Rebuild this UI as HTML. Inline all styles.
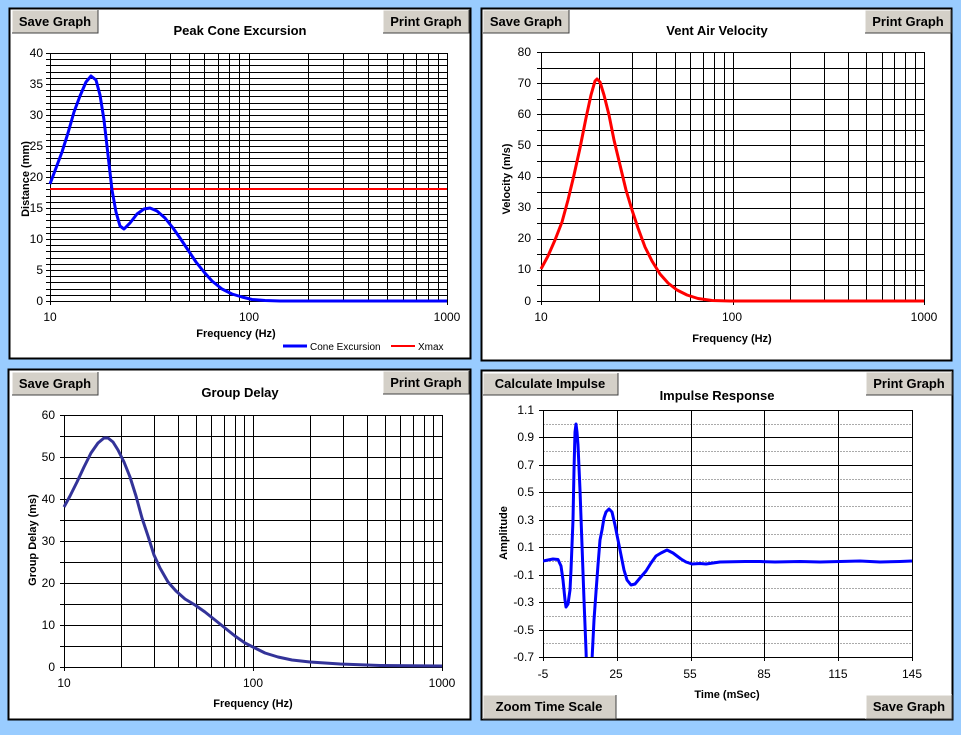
<!DOCTYPE html>
<html><head><meta charset="utf-8"><style>
html,body{margin:0;padding:0;background:#99ccff;}
svg{display:block;font-family:"Liberation Sans",Arial,sans-serif;}
.t{font-size:13px;font-weight:bold;}
.k{font-size:12px;}
.a{font-size:11px;font-weight:bold;}
.b{font-size:13px;font-weight:bold;}
</style></head><body>
<svg id="s" width="961" height="735" viewBox="0 0 961 735" xmlns="http://www.w3.org/2000/svg">
<defs>
<clipPath id="c4"><rect x="543" y="410" width="369" height="247"/></clipPath>
</defs>
<rect width="961" height="735" fill="#99ccff"/>
<rect x="9.5" y="8.5" width="461" height="350" fill="#fff" stroke="#000" stroke-width="2"/>
<rect x="481.5" y="8.5" width="470" height="352" fill="#fff" stroke="#000" stroke-width="2"/>
<rect x="8.5" y="369.5" width="462" height="350" fill="#fff" stroke="#000" stroke-width="2"/>
<rect x="481.5" y="370.5" width="471" height="349" fill="#fff" stroke="#000" stroke-width="2"/>
<g id="grid"></g>

<!-- P1 -->
<polyline fill="none" stroke="#ff0000" stroke-width="2" points="50,189 447,189"/>
<polyline fill="none" stroke="#0000ff" stroke-width="3" stroke-linejoin="round" points="50,184 56,168 62,152 68,133 74,112 80,96 86,82 91,76 96,80 100,95 104,120 108,155 112,190 116,212 120,226 124,229 130,223 137,214 144,209 150,208 157,211 165,218 173,228 180,238 188,250 196,262 204,272 212,281 222,289 232,294 242,297 252,299.5 265,300.5 280,301 447,301"/>
<line x1="283" y1="346" x2="307" y2="346" stroke="#0000ff" stroke-width="3"/>
<text x="310" y="350" font-size="10">Cone Excursion</text>
<line x1="391" y1="346" x2="415" y2="346" stroke="#ff0000" stroke-width="2"/>
<text x="418" y="350" font-size="10">Xmax</text>
<text class="t" x="240" y="35" text-anchor="middle">Peak Cone Excursion</text>
<g class="k" text-anchor="end">
<text x="43" y="57">40</text><text x="43" y="88">35</text><text x="43" y="119">30</text><text x="43" y="150">25</text><text x="43" y="181">20</text><text x="43" y="212">15</text><text x="43" y="243">10</text><text x="43" y="274">5</text><text x="43" y="305">0</text>
</g>
<g class="k" text-anchor="middle"><text x="50" y="321">10</text><text x="249" y="321">100</text><text x="447" y="321">1000</text></g>
<text class="a" x="236" y="337" text-anchor="middle">Frequency (Hz)</text>
<text class="a" transform="translate(29,179) rotate(-90)" text-anchor="middle">Distance (mm)</text>

<!-- P2 -->
<polyline fill="none" stroke="#ff0000" stroke-width="3" stroke-linejoin="round" points="541,269 548,256 555,240 562,222 568,200 574,175 580,148 586,118 591,95 595,81 597,79 600,82 604,95 609,115 614,140 620,165 626,190 632,210 638,228 645,247 652,261 660,274 668,283 677,290 687,295 698,298.5 712,300.5 730,301 924,301"/>
<text class="t" x="717" y="35" text-anchor="middle">Vent Air Velocity</text>
<g class="k" text-anchor="end">
<text x="531" y="56">80</text><text x="531" y="87">70</text><text x="531" y="118">60</text><text x="531" y="149">50</text><text x="531" y="180">40</text><text x="531" y="211">30</text><text x="531" y="242">20</text><text x="531" y="273">10</text><text x="531" y="305">0</text>
</g>
<g class="k" text-anchor="middle"><text x="541" y="321">10</text><text x="732" y="321">100</text><text x="924" y="321">1000</text></g>
<text class="a" x="732" y="342" text-anchor="middle">Frequency (Hz)</text>
<text class="a" transform="translate(510,179) rotate(-90)" text-anchor="middle">Velocity (m/s)</text>

<!-- P3 -->
<polyline fill="none" stroke="#333399" stroke-width="3" stroke-linejoin="round" points="64,507 70,496 77,482 84,467 91,453 98,443 104,438 108,438 113,442 118,450 124,462 130,477 136,496 142,518 148,536 154,555 160,568 168,582 176,591 185,599 195,605 205,612 215,620 225,628 235,636 245,643 255,648 265,653 278,657 292,660 310,662 340,664 380,665.5 442,666"/>
<text class="t" x="240" y="397" text-anchor="middle">Group Delay</text>
<g class="k" text-anchor="end">
<text x="55" y="419">60</text><text x="55" y="461">50</text><text x="55" y="503">40</text><text x="55" y="545">30</text><text x="55" y="587">20</text><text x="55" y="629">10</text><text x="55" y="671">0</text>
</g>
<g class="k" text-anchor="middle"><text x="64" y="687">10</text><text x="253" y="687">100</text><text x="442" y="687">1000</text></g>
<text class="a" x="253" y="707" text-anchor="middle">Frequency (Hz)</text>
<text class="a" transform="translate(36,540) rotate(-90)" text-anchor="middle">Group Delay (ms)</text>

<!-- P4 -->
<g clip-path="url(#c4)">
<polyline fill="none" stroke="#0000ff" stroke-width="3" stroke-linejoin="round" points="543,561 548,560 553,559 558,559.5 561,566 563,580 565,600 566,607 568,604 570,590 571,570 573,520 574,470 575,432 576,424 577,432 578,445 580,490 582,545 584,600 586,650 587,680 590,690 592,660 594,620 596,592 598,565 600,540 602,530 604,518 606,512 609,509 612,512 615,525 618,540 621,555 624,570 627,580 631,585 635,584 640,578 646,571 651,563 656,556 661,553 667,550 673,553 677,556 681,559 686,562 692,564 700,563.5 706,564 713,563 720,562 745,561.5 760,561.5 775,562 800,561.5 820,562 840,561.5 860,561 880,562 900,561.5 912,561"/>
</g>
<text class="t" x="717" y="400" text-anchor="middle">Impulse Response</text>
<g class="k" text-anchor="end">
<text x="534" y="414">1.1</text><text x="534" y="441">0.9</text><text x="534" y="469">0.7</text><text x="534" y="496">0.5</text><text x="534" y="524">0.3</text><text x="534" y="551">0.1</text><text x="534" y="579">-0.1</text><text x="534" y="606">-0.3</text><text x="534" y="634">-0.5</text><text x="534" y="661">-0.7</text>
</g>
<g class="k" text-anchor="middle"><text x="543" y="678">-5</text><text x="616" y="678">25</text><text x="690" y="678">55</text><text x="764" y="678">85</text><text x="838" y="678">115</text><text x="912" y="678">145</text></g>
<text class="a" x="727" y="698" text-anchor="middle">Time (mSec)</text>
<text class="a" transform="translate(507,533) rotate(-90)" text-anchor="middle">Amplitude</text>

<!-- buttons -->
<g class="b">
<rect x="12" y="10" width="86" height="23" fill="#d4d0c8"/><path d="M12,33 V10 H98" stroke="#fff" fill="none"/><path d="M98,10 V33 H12" stroke="#404040" fill="none"/><text x="55" y="26" text-anchor="middle">Save Graph</text>
<rect x="383" y="10" width="86" height="23" fill="#d4d0c8"/><path d="M383,33 V10 H469" stroke="#fff" fill="none"/><path d="M469,10 V33 H383" stroke="#404040" fill="none"/><text x="426" y="26" text-anchor="middle">Print Graph</text>
<rect x="483" y="10" width="86" height="23" fill="#d4d0c8"/><path d="M483,33 V10 H569" stroke="#fff" fill="none"/><path d="M569,10 V33 H483" stroke="#404040" fill="none"/><text x="526" y="26" text-anchor="middle">Save Graph</text>
<rect x="865" y="10" width="86" height="23" fill="#d4d0c8"/><path d="M865,33 V10 H951" stroke="#fff" fill="none"/><path d="M951,10 V33 H865" stroke="#404040" fill="none"/><text x="908" y="26" text-anchor="middle">Print Graph</text>
<rect x="12" y="372" width="86" height="23" fill="#d4d0c8"/><path d="M12,395 V372 H98" stroke="#fff" fill="none"/><path d="M98,372 V395 H12" stroke="#404040" fill="none"/><text x="55" y="388" text-anchor="middle">Save Graph</text>
<rect x="383" y="371" width="86" height="23" fill="#d4d0c8"/><path d="M383,394 V371 H469" stroke="#fff" fill="none"/><path d="M469,371 V394 H383" stroke="#404040" fill="none"/><text x="426" y="387" text-anchor="middle">Print Graph</text>
<rect x="483" y="373" width="135" height="22" fill="#d4d0c8"/><path d="M483,395 V373 H618" stroke="#fff" fill="none"/><path d="M618,373 V395 H483" stroke="#404040" fill="none"/><text x="550" y="388" text-anchor="middle">Calculate Impulse</text>
<rect x="866" y="372" width="86" height="23" fill="#d4d0c8"/><path d="M866,395 V372 H952" stroke="#fff" fill="none"/><path d="M952,372 V395 H866" stroke="#404040" fill="none"/><text x="909" y="388" text-anchor="middle">Print Graph</text>
<rect x="483" y="695" width="133" height="24" fill="#d4d0c8"/><path d="M483,719 V695 H616" stroke="#fff" fill="none"/><path d="M616,695 V719 H483" stroke="#404040" fill="none"/><text x="549" y="711" text-anchor="middle">Zoom Time Scale</text>
<rect x="866" y="695" width="86" height="24" fill="#d4d0c8"/><path d="M866,719 V695 H952" stroke="#fff" fill="none"/><path d="M952,695 V719 H866" stroke="#404040" fill="none"/><text x="909" y="711" text-anchor="middle">Save Graph</text>
</g>
</svg>
<script>
(function(){
var g=document.getElementById('grid'),h='';
function L(x1,y1,x2,y2,c,d){h+='<line x1="'+x1+'" y1="'+y1+'" x2="'+x2+'" y2="'+y2+'" stroke="'+(c||'#000')+'" stroke-width="1"'+(d?' stroke-dasharray="'+d+'"':'')+'/>';}
function logp(x0,x1,y0,y1,ymax,step){
 for(var v=0;v<=ymax+1e-9;v+=step){var y=Math.round(y1-(y1-y0)*v/ymax)+0.5;L(x0,y,x1,y);L(x0-4,y,x0,y);}
 for(var d=10;d<1000;d*=10)for(var m=1;m<=10;m++){var f=d*m;var x=Math.round(x0+(x1-x0)*Math.log10(f/10)/2)+0.5;L(x,y0,x,y1);if(m==1||m==10)L(x,y1,x,y1+4);}
 L(x0+.5,y0,x0+.5,y1);
}
logp(50,447,53,301,40,1);
logp(541,924,52,301,80,5);
logp(64,442,415,667,60,5);
var x0=543,x1=912,y0=410,y1=657;
for(var i=0;i<=18;i++){var y=Math.round(y0+(y1-y0)*i/18)+0.5;if(i%2==0){L(x0,y,x1,y);L(x0-4,y,x0,y);}else L(x0,y,x1,y,'#aaa','2,1');}
for(var i=0;i<=5;i++){var x=Math.round(x0+(x1-x0)*i/5)+0.5;L(x,y0,x,y1);L(x,y1,x,y1+4);}
L(x0+.5,y0,x0+.5,y1);
g.innerHTML=h;
})();
</script>
</body></html>
